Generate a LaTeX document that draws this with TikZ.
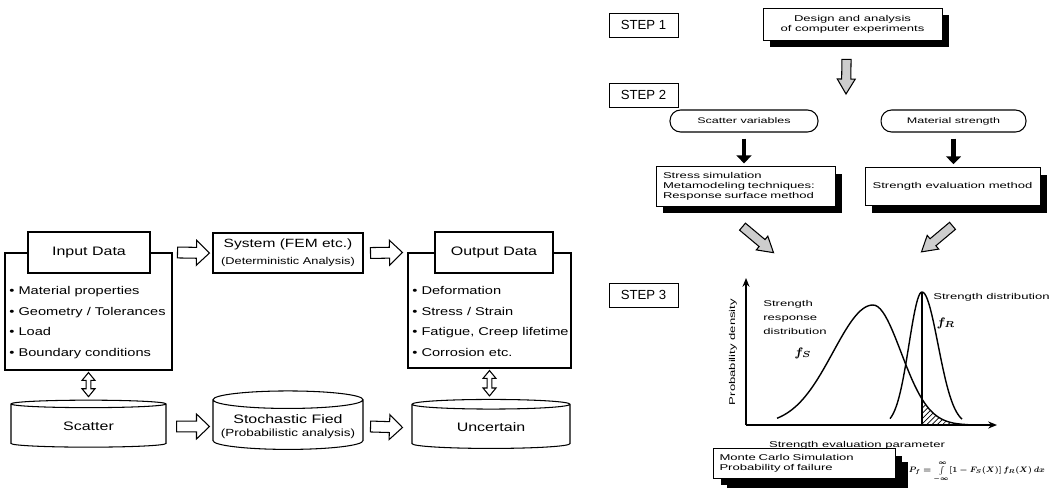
\documentclass[tikz,border=0pt]{standalone}
\usepackage{amsmath}
\usepackage{fontspec}
\setmainfont[FakeStretch=1.3]{Liberation Sans}
\newfontfamily\widefont[FakeStretch=1.55]{Liberation Sans}
\newfontfamily\stepfont{Liberation Sans}
\usepackage{tikz}
\usetikzlibrary{shapes.geometric, arrows.meta, positioning, calc, shadows, patterns}
\definecolor{arrowgray}{RGB}{205, 205, 205}
\tikzset{
    titlebox/.style={rectangle, draw, fill=white, line width=0.6pt,
                     font=\fontsize{7}{8}\selectfont},
    listbox/.style={rectangle, draw, line width=0.6pt},
    items/.style={align=left, inner sep=0pt, font=\fontsize{6.4}{11.8}\selectfont},
    sysbox/.style={rectangle, draw, fill=white, line width=0.6pt, align=center},
    drum/.style={cylinder, shape border rotate=90, aspect=0.12, draw,
                 fill=white, line width=0.6pt, align=center,
                 font=\fontsize{7}{8}\selectfont},
    stepbox/.style={rectangle, draw, line width=0.4pt, minimum width=1.38cm,
                    minimum height=0.48cm, font=\stepfont\fontsize{7.5}{8}\selectfont},
    shadowbox/.style={rectangle, draw, fill=white, line width=0.4pt,
                      drop shadow={shadow xshift=0.14cm, shadow yshift=-0.14cm,
                                   fill=black, opacity=1},
                      font=\widefont\fontsize{4.8}{5.7}\selectfont},
    pill/.style={rectangle, rounded corners=6pt, draw, line width=0.6pt,
                 font=\widefont\fontsize{4.6}{5.5}\selectfont},
    small/.style={font=\widefont\fontsize{4.8}{8}\selectfont},
    blk/.style={line width=2.8pt, -{Triangle[length=4.5pt, width=8.5pt]}},
    axis/.style={line width=0.9pt, -{Stealth[length=5pt, width=4pt]}},
    curve/.style={line width=0.8pt},
    hollow/.style n args={3}{draw, line width=0.6pt, line join=miter,
        to path={let \p1=(\tikztostart), \p2=(\tikztotarget),
                     \n1={atan2(\y2-\y1,\x2-\x1)},
                     \n2={veclen(\x2-\x1,\y2-\y1)-#3} in
            ($(\p1)+(\n1+90:#1)$) -- ($(\p1)+(\n1:\n2)+(\n1+90:#1)$)
            -- ($(\p1)+(\n1:\n2)+(\n1+90:#2)$) -- (\p2)
            -- ($(\p1)+(\n1:\n2)+(\n1-90:#2)$) -- ($(\p1)+(\n1:\n2)+(\n1-90:#1)$)
            -- ($(\p1)+(\n1-90:#1)$) -- cycle}},
    hollowtwo/.style n args={3}{draw, fill=white, line width=0.6pt, line join=miter,
        to path={let \p1=(\tikztostart), \p2=(\tikztotarget),
                     \n1={atan2(\y2-\y1,\x2-\x1)},
                     \n2={veclen(\x2-\x1,\y2-\y1)-#3} in
            (\p1) -- ($(\p1)+(\n1:#3)+(\n1+90:#2)$) -- ($(\p1)+(\n1:#3)+(\n1+90:#1)$)
            -- ($(\p1)+(\n1:\n2)+(\n1+90:#1)$) -- ($(\p1)+(\n1:\n2)+(\n1+90:#2)$)
            -- (\p2) -- ($(\p1)+(\n1:\n2)+(\n1-90:#2)$) -- ($(\p1)+(\n1:\n2)+(\n1-90:#1)$)
            -- ($(\p1)+(\n1:#3)+(\n1-90:#1)$) -- ($(\p1)+(\n1:#3)+(\n1-90:#2)$) -- cycle}},
    bigarr/.style={hollow={3.1pt}{7.1pt}{7.4pt}, fill=white},
    grayarr/.style={hollow={2.6pt}{5.1pt}{8.5pt}, fill=arrowgray},
    twoarr/.style={hollowtwo={1.4pt}{3.7pt}{4.5pt}},
}

\begin{document}
\begin{tikzpicture}[x=0.02cm, y=-0.02cm]
    \useasboundingbox (0,0) rectangle (1057,487);

    % Left: input / system / output
    \node[listbox, minimum width=3.34cm, minimum height=2.34cm] (inlist) at (88.5,311.5) {};
    \node[titlebox, minimum width=2.44cm, minimum height=0.82cm] (input) at (89,252.5) {Input Data};
    \node[items, anchor=north west] (initems) at (9,286) {\textbullet\ Material properties\\\textbullet\ Geometry / Tolerances\\\textbullet\ Load\\\textbullet\ Boundary conditions};

    \node[sysbox, minimum width=3.0cm, minimum height=0.8cm] (sys) at (288,253) {{\fontsize{6.8}{8}\selectfont System (FEM etc.)}\\[-2.5pt]{\fontsize{5.6}{6}\selectfont (Deterministic Analysis)}};

    \node[listbox, minimum width=3.26cm, minimum height=2.3cm] (outlist) at (489.5,310.5) {};
    \node[titlebox, minimum width=2.36cm, minimum height=0.82cm] (output) at (494,252.5) {Output Data};
    \node[items, anchor=north west] (outitems) at (412,286) {\textbullet\ Deformation\\\textbullet\ Stress / Strain\\\textbullet\ Fatigue, Creep lifetime\\\textbullet\ Corrosion etc.};

    % Left: stochastic row
    \node[drum, minimum width=3.1cm, minimum height=0.94cm] (scatter) at (88.5,426.5) {Scatter};
    \node[drum, minimum width=3.0cm, minimum height=0.94cm] (stoch) at (288,426.5) {Stochastic Fied\\[-1pt]{\fontsize{5.9}{6}\selectfont (Probabilistic analysis)}};
    \node[drum, minimum width=3.16cm, minimum height=0.98cm] (uncert) at (491,427.5) {Uncertain};

    \draw[bigarr] ([xshift=0.1cm]inlist.north east) to ([xshift=-0.06cm]sys.west);
    \draw[bigarr] ([xshift=0.14cm]sys.east) to ([xshift=-0.1cm]outlist.north west);
    \draw[bigarr] ([xshift=0.2cm]scatter.east) to ([xshift=-0.06cm]stoch.west);
    \draw[bigarr] ([xshift=0.14cm]stoch.east) to ([xshift=-0.18cm]uncert.west);
    \draw[twoarr] ([yshift=-0.04cm]inlist.south) to ([yshift=0.06cm]scatter.north);
    \draw[twoarr] ([yshift=-0.04cm]outlist.south) to ([yshift=0.06cm]outlist.south |- uncert.north);

    % Right: steps
    \node[stepbox] (step1) at (643.5,25) {STEP 1};
    \node[stepbox, below=0.91cm of step1] (step2) {STEP 2};
    \node[stepbox, below=3.5cm of step2] (step3) {STEP 3};

    \node[shadowbox, minimum width=3.58cm, minimum height=0.64cm, align=center] (design) at (852.5,24) {Design and analysis\\of computer experiments};
    \coordinate (fork) at (846,94);
    \node[pill, minimum width=2.96cm, minimum height=0.44cm] (scatvar) at (744,121) {Scatter variables};
    \node[pill, minimum width=2.9cm, minimum height=0.44cm, right=1.24cm of scatvar] (matstr) {Material strength};
    \node[shadowbox, minimum width=3.58cm, minimum height=0.76cm, text width=3.3cm, align=left] (stress) at (745.5,186.5) {Stress simulation\\Metamodeling techniques:\\Response surface method};
    \node[shadowbox, minimum width=3.5cm, minimum height=0.76cm] (streval) at (952.5,186.5) {Strength evaluation method};

    \draw[grayarr] ([shift={(-6,19)}]design.south) to (fork);
    \draw[blk] ([yshift=-0.12cm]scatvar.south) to ([yshift=0.06cm]scatvar.south |- stress.north);
    \draw[blk] ([yshift=-0.12cm]matstr.south) to ([yshift=0.06cm]matstr.south |- streval.north);
    \draw[grayarr] ([shift={(-3,20)}]stress.south) to ([shift={(28,46)}]stress.south);
    \draw[grayarr] ([shift={(0,20)}]streval.south) to ([shift={(-31,46)}]streval.south);

    % Right: probability chart
    \coordinate (origin) at (746,425);
    \coordinate (ytop) at (746,278);
    \coordinate (xend) at (997,425);
    \coordinate (rpeak) at (922,292);
    \fill[pattern=north east lines] (922,425) -- plot[domain=922:968, samples=30] (\x,{425-120*exp(-0.5*((\x-873)/28)^2)}) -- cycle;
    \draw[curve] plot[domain=777:873, samples=40] (\x,{425-120*exp(-0.5*((\x-873)/40)^2)})
        -- plot[domain=873:968, samples=40] (\x,{425-120*exp(-0.5*((\x-873)/28)^2)});
    \draw[curve] plot[domain=890:922, samples=30] (\x,{425-133*exp(-0.5*((\x-922)/13)^2)})
        -- plot[domain=922:962, samples=30] (\x,{425-133*exp(-0.5*((\x-922)/16)^2)});
    \draw[curve] (origin -| rpeak) -- (rpeak);
    \draw[axis] (origin) -- (ytop);
    \draw[axis] (origin) -- (xend);

    \node[small, rotate=90] (ylabel) at (733,352) {Probability density};
    \node[small, align=left, anchor=north west, inner sep=0pt] (fslabel) at (763,300) {Strength\\response\\distribution};
    \node[font=\fontsize{7}{8}\selectfont] (fslab) at (803,353) {$\boldsymbol{f_S}$};
    \node[small, anchor=west, inner sep=0pt] (frlabel) at (933,297) {Strength distribution};
    \node[font=\fontsize{7}{8}\selectfont] (frlab) at (946,323) {$\boldsymbol{f_R}$};
    \node[small] (xlabel) at (857,445) {Strength evaluation parameter};

    \node[shadowbox, drop shadow={shadow xshift=0.26cm, shadow yshift=-0.26cm, fill=black, opacity=1}, minimum width=3.54cm, minimum height=0.46cm, text width=3.4cm, align=left] (mc) at (804.5,463.5) {Monte Carlo Simulation\\Probability of failure};
    \node[font=\fontsize{7}{8}\selectfont, inner sep=0pt, scale=0.64, transform shape] (pf) at (977,472) {$\boldsymbol{P_f=\int\limits_{-\infty}^{\infty}[1-F_S(X)]\,f_R(X)\,dx}$};
\end{tikzpicture}
\end{document}
